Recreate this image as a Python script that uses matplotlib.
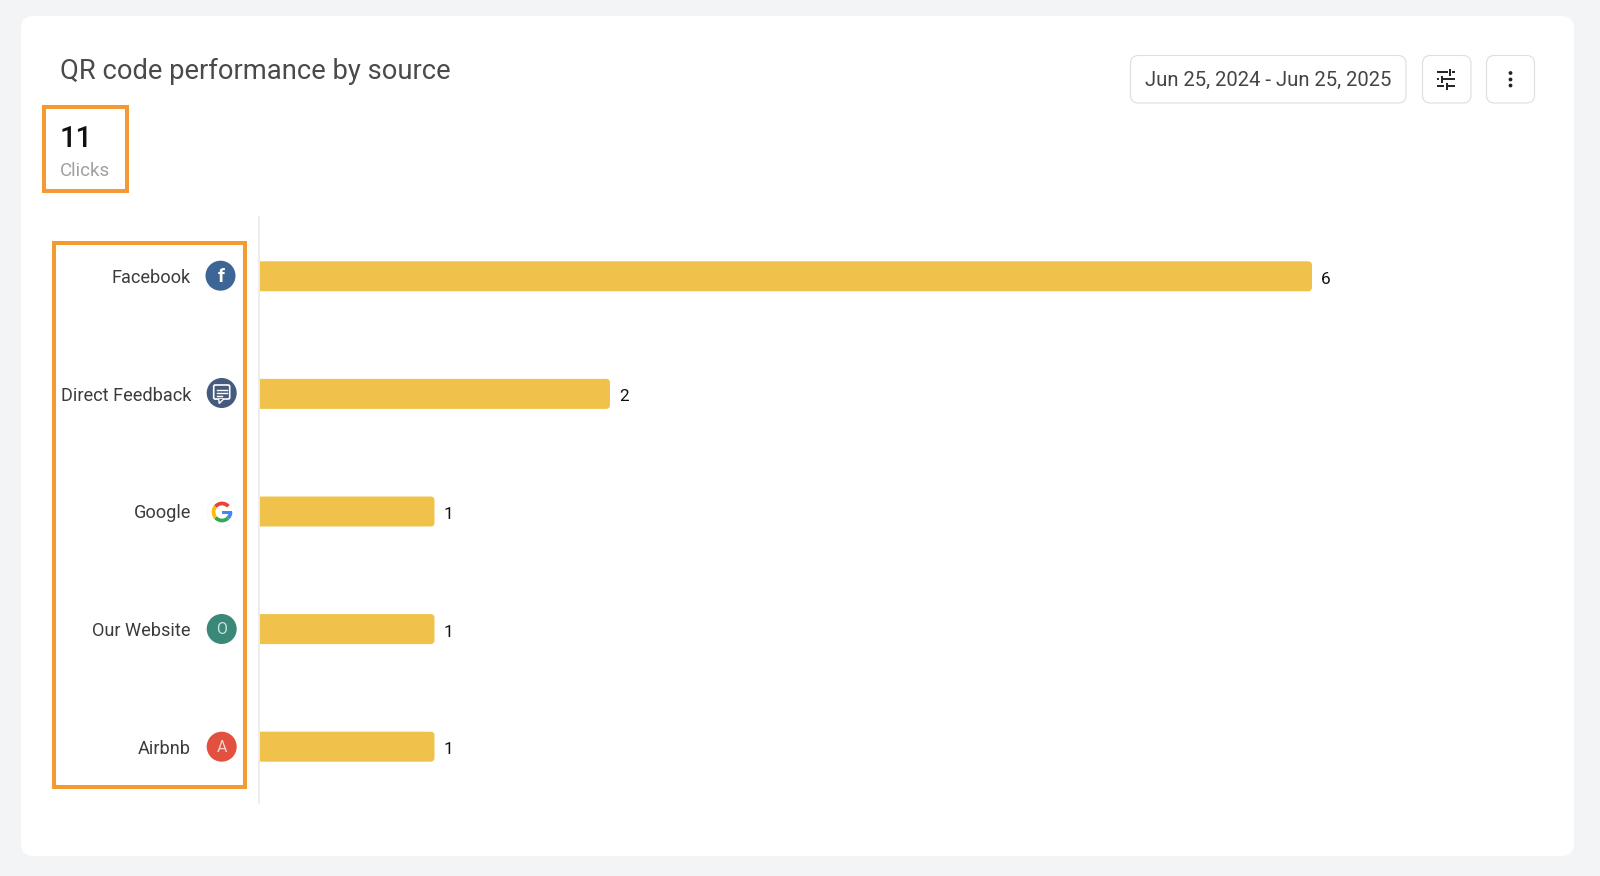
#!/usr/bin/env python3
"""QR code performance by source - dashboard card with horizontal bars."""

import matplotlib
matplotlib.use("Agg")
import matplotlib.pyplot as plt
from matplotlib.patches import Arc, Circle, FancyBboxPatch, Polygon, Rectangle

plt.rcParams["font.family"] = ["Roboto", "DejaVu Sans"]

sources = ["Facebook", "Direct Feedback", "Google", "Our Website", "Airbnb"]
clicks = [6, 2, 1, 1, 1]
icon_colors = ["#3D6596", "#455A7C", "#FFFFFF", "#3A8878", "#E2513F"]
icon_letters = ["", "", "", "O", "A"]

title = "QR code performance by source"
date_range = "Jun 25, 2024 - Jun 25, 2025"
total_clicks = "11"
total_label = "Clicks"

BAR_COLOR = "#F1C24B"
ORANGE = "#F39A33"
W, H = 1600, 876

fig = plt.figure(figsize=(W / 100, H / 100), dpi=100, facecolor="#F3F4F6")

# ── Page layer, in pixels ─────────────────────────────────────────────
bg = fig.add_axes([0, 0, 1, 1])
bg.set_xlim(0, W)
bg.set_ylim(H, 0)
bg.axis("off")


def round_box(x0, y0, x1, y1, r, **kw):
    bg.add_patch(FancyBboxPatch((x0, y0), x1 - x0, y1 - y0,
                                boxstyle=f"round,pad=0,rounding_size={r}", **kw))


round_box(21, 16, 1574, 856, 13, fc="white", ec="none")
bg.text(60, 71, title, fontsize=19.75, color="#4A4A4A", va="center", ha="left")

# buttons
for x0, x1 in [(1130.5, 1406), (1422.5, 1471), (1486.5, 1534.5)]:
    round_box(x0, 55.5, x1, 103, 8, fc="white", ec="#DEDEDE", lw=0.8)
bg.text(1268.5, 80.5, date_range, fontsize=14.62, color="#444444", va="center", ha="center")

# slider icon
for y, xa, xb, xc in [(72, 1437, 1450, 1455), (79, 1437, 1441, 1455), (86, 1437, 1446, 1455)]:
    bg.plot([xa, xb - 2], [y, y], color="#222222", lw=1.4, solid_capstyle="butt")
    bg.plot([xb + 2, xc], [y, y], color="#222222", lw=1.4, solid_capstyle="butt")
for x, y in [(1450, 72), (1442, 79), (1447, 86)]:
    bg.plot([x, x], [y - 3.5, y + 3.5], color="#222222", lw=1.4, solid_capstyle="butt")

# kebab icon
for y in [73, 79.5, 85.5]:
    bg.add_patch(Circle((1510.5, y), 1.9, fc="#222222", ec="none"))

# KPI block
bg.text(60, 139, total_clicks, fontsize=21, color="#111111", va="center", ha="left",
        fontweight="medium")
bg.text(60, 171, total_label, fontsize=13.5, color="#A0A0A0", va="center", ha="left")
bg.add_patch(Rectangle((44, 107), 83, 84, fc="none", ec=ORANGE, lw=2.9))
bg.add_patch(Rectangle((54, 243), 191, 544, fc="none", ec=ORANGE, lw=2.9))

# ── Chart ─────────────────────────────────────────────────────────────
AX_L, AX_R, AX_T, AX_B = 259, 1500, 217, 803
UNIT_X = 175.5
UNIT_Y = 117.6
FIRST_Y = 276.3

ax = fig.add_axes([AX_L / W, 1 - AX_B / H, (AX_R - AX_L) / W, (AX_B - AX_T) / H])
ax.patch.set_alpha(0)
ax.set_xlim(0, (AX_R - AX_L) / UNIT_X)
ax.set_ylim((AX_B - FIRST_Y) / UNIT_Y, (AX_T - FIRST_Y) / UNIT_Y)

positions = list(range(len(sources)))
bars = ax.barh(positions, clicks, height=30 / UNIT_Y, color=BAR_COLOR)

# swap the square bars for rounded ones with the same geometry
rx = 4 / UNIT_X
for bar in bars:
    bar.set_visible(False)
    ax.add_patch(FancyBboxPatch(
        (-2 * rx, bar.get_y()), bar.get_width() + 2 * rx, bar.get_height(),
        boxstyle=f"round,pad=0,rounding_size={rx}",
        mutation_aspect=UNIT_X / UNIT_Y, fc=BAR_COLOR, ec="none"))

for pos, val in zip(positions, clicks):
    ax.annotate(str(val), (val, pos), xytext=(9, -3), textcoords="offset pixels",
                fontsize=12.4, color="#111111", va="center", ha="left")

ax.set_yticks(positions)
ax.set_yticklabels(sources, fontsize=13.1, color="#3C3C3C", va="center_baseline")
ax.tick_params(axis="y", length=0, pad=49)
ax.set_xticks([])
for side in ["top", "right", "bottom"]:
    ax.spines[side].set_visible(False)
ax.spines["left"].set_color("#ECEDF0")
ax.spines["left"].set_linewidth(1.4)

# ── Source icons ──────────────────────────────────────────────────────
icon_x = [220.5, 221.7, 222, 221.7, 221.7]
icon_y = [275.7, 393, 512, 629, 746.7]
for cx, cy, col, letter in zip(icon_x, icon_y, icon_colors, icon_letters):
    bg.add_patch(Circle((cx, cy), 15, fc=col, ec="#F8F8F8" if col == "#FFFFFF" else "none", lw=0.6))
    if letter:
        bg.text(cx, cy + 0.5, letter, fontsize=11.5, color="#FFFFFF", alpha=0.75,
                ha="center", va="center")

# facebook f
bg.text(icon_x[0] + 0.3, icon_y[0] + 1.5, "f", fontsize=14, color="white", fontweight="bold",
        ha="center", va="center")

# chat bubble
cx, cy = icon_x[1], icon_y[1]
round_box(cx - 8, cy - 8, cx + 8, cy + 6, 1.5, fc="none", ec="white", lw=1.2)
bg.add_patch(Polygon([(cx - 3, cy + 6), (cx - 2.5, cy + 10.5), (cx + 2, cy + 6)],
                     fc=icon_colors[1], ec="white", lw=1.0, closed=False))
for dy, half in [(-3, 5), (0, 5), (3, 2.5)]:
    bg.plot([cx - 5, cx - 5 + 2 * half], [cy + dy, cy + dy], color="white", lw=1.0)

# google G - y axis of the page layer points down, so angles run clockwise on screen
cx, cy = icon_x[2], icon_y[2]
for a0, a1, col in [(0, 45, "#4285F4"), (45, 140, "#34A853"),
                    (140, 220, "#FBBC05"), (220, 318, "#EA4335")]:
    bg.add_patch(Arc((cx, cy), 17, 17, theta1=a0, theta2=a1, color=col, lw=2.7))
bg.add_patch(Rectangle((cx, cy - 1.5), 9.5, 3.2, fc="#4285F4", ec="none"))

fig.savefig("out.png", dpi=100, facecolor=fig.get_facecolor())
